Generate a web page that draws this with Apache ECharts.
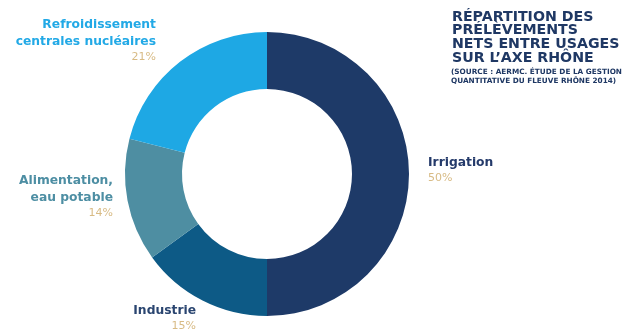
<!DOCTYPE html>
<html><head><meta charset="utf-8">
<script src="https://cdn.jsdelivr.net/npm/echarts@6/dist/echarts.min.js"></script>
<style>html,body{margin:0;padding:0;background:#fff}#c{width:632px;height:332px}</style>
</head><body><div id="c"></div>
<script>
const categories = ['Irrigation', 'Industrie', 'Alimentation,\neau potable', 'Refroidissement\ncentrales nucléaires'];
const values = [50, 15, 14, 21];
const percentLabels = ['50%', '15%', '14%', '21%'];
const colors = ['#1e3a68', '#0d5a86', '#4e8ea2', '#1ea8e4'];
const labelColors = ['#243a6a', '#2a4570', '#4d8ea3', '#22a9e6'];
const titleLines = ['RÉPARTITION DES', 'PRÉLÈVEMENTS', 'NETS ENTRE USAGES', 'SUR L\u2019AXE RHÔNE'];
const sourceLines = ['(SOURCE : AERMC. ÉTUDE DE LA GESTION', 'QUANTITATIVE DU FLEUVE RHÔNE 2014)'];

const labelPos = [
  {x: 428, y: 170, align: 'left'},
  {x: 196, y: 318, align: 'right'},
  {x: 113, y: 197, align: 'right'},
  {x: 156, y: 41, align: 'right'}
];

const chart = echarts.init(document.getElementById('c'));
chart.setOption({
  animation: false,
  graphic: [
    {type: 'text', left: 452, top: 10, style: {text: titleLines.join('\n'), font: 'bold 14.2px "DejaVu Sans"', fill: '#1f3864', lineHeight: 13.7}},
    {type: 'text', left: 451, top: 67, style: {text: sourceLines.join('\n'), font: 'bold 7.3px "DejaVu Sans"', fill: '#1f3864', lineHeight: 9.5}}
  ],
  series: [{
    type: 'pie',
    center: [267, 174],
    radius: [85, 142],
    startAngle: 90,
    clockwise: true,
    silent: true,
    data: categories.map((c, i) => ({
      name: c, value: values[i],
      itemStyle: {color: colors[i]},
      label: {
        formatter: '{n|' + c.split('\n').join('}\n{n|') + '}\n{p|' + percentLabels[i] + '}',
        rich: {
          n: {fontFamily: 'DejaVu Sans', fontWeight: 'bold', fontSize: 12.3, color: labelColors[i], lineHeight: 16.5, align: labelPos[i].align},
          p: {fontFamily: 'DejaVu Sans', fontSize: 11, color: '#d8bb85', lineHeight: 15, align: labelPos[i].align}
        }
      }
    })),
    label: {show: true, position: 'outside', overflow: 'none', width: 200},
    labelLine: {show: false},
    labelLayout: function (p) {
      const lp = labelPos[p.dataIndex];
      return {x: lp.x, y: lp.y, align: lp.align, verticalAlign: 'middle'};
    }
  }]
});
</script></body></html>
